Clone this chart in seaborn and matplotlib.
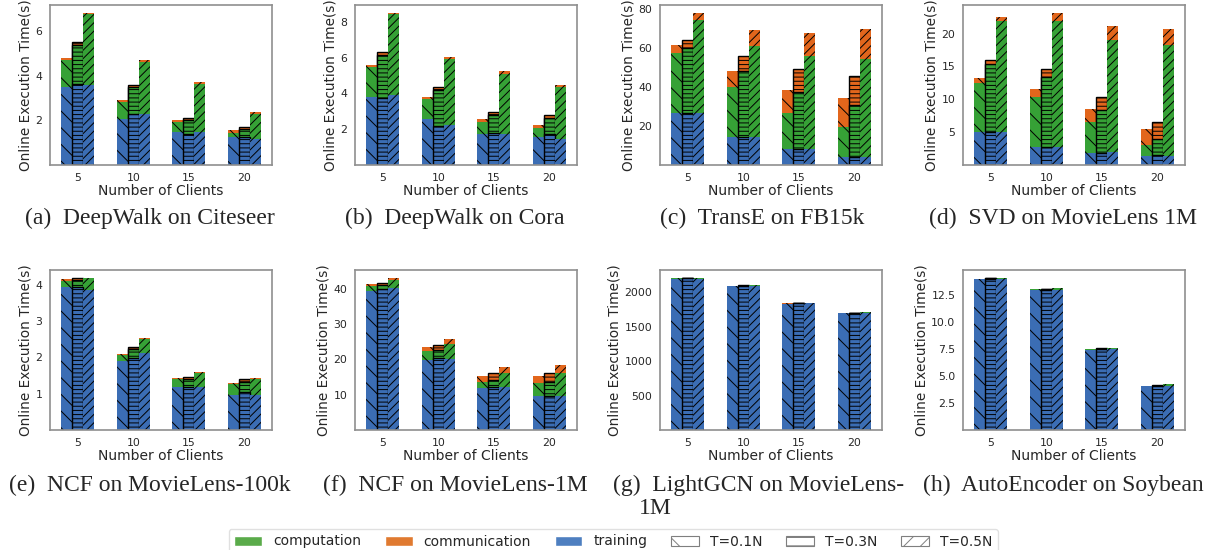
import numpy as np
import pandas as pd
import matplotlib
matplotlib.use('Agg')
import matplotlib.pyplot as plt
import seaborn as sns
from matplotlib.patches import Patch
from matplotlib.ticker import MultipleLocator

clients = ['5', '10', '15', '20']
t_levels = ['T=0.1N', 'T=0.3N', 'T=0.5N']

# each list: rows = T=0.1N, T=0.3N, T=0.5N ; columns = 5, 10, 15, 20 clients
a_train = [[3.51, 2.07, 1.49, 1.25], [3.64, 2.27, 1.37, 1.27], [3.57, 2.27, 1.49, 1.18]]
a_comp = [[1.19, 0.75, 0.44, 0.20], [1.73, 1.24, 0.63, 0.33], [3.18, 2.34, 2.12, 1.09]]
a_comm = [[0.08, 0.08, 0.07, 0.10], [0.14, 0.09, 0.09, 0.10], [0.07, 0.08, 0.09, 0.12]]

b_train = [[3.81, 2.58, 1.76, 1.55], [3.76, 2.20, 1.79, 1.72], [3.93, 2.26, 1.76, 1.46]]
b_comp = [[1.67, 1.12, 0.63, 0.51], [2.37, 1.99, 1.00, 0.92], [4.50, 3.68, 3.31, 2.90]]
b_comm = [[0.09, 0.11, 0.19, 0.16], [0.17, 0.17, 0.18, 0.16], [0.09, 0.12, 0.18, 0.13]]

c_train = [[26.7, 14.4, 8.2, 4.3], [26.7, 14.4, 8.4, 4.3], [26.7, 14.4, 8.2, 4.3]]
c_comp = [[30.7, 25.4, 18.6, 15.4], [33.3, 33.6, 29.0, 26.3], [47.3, 46.5, 47.5, 50.2]]
c_comm = [[4.1, 8.1, 11.8, 14.7], [4.1, 8.0, 11.5, 15.0], [4.0, 8.0, 11.7, 14.9]]

d_train = [[5.1, 2.7, 1.9, 1.4], [5.1, 2.7, 1.9, 1.5], [5.1, 2.7, 2.0, 1.4]]
d_comp = [[7.4, 7.6, 4.7, 1.6], [10.3, 10.7, 6.5, 2.5], [16.8, 19.2, 17.1, 16.8]]
d_comm = [[0.7, 1.3, 1.9, 2.5], [0.6, 1.2, 2.0, 2.5], [0.7, 1.3, 2.0, 2.5]]

e_train = [[3.94, 1.89, 1.19, 0.97], [3.94, 1.99, 1.19, 1.05], [3.85, 2.11, 1.19, 0.96]]
e_comp = [[0.17, 0.17, 0.20, 0.29], [0.19, 0.25, 0.20, 0.27], [0.32, 0.40, 0.37, 0.43]]
e_comm = [[0.03, 0.04, 0.04, 0.04], [0.04, 0.05, 0.06, 0.07], [0.02, 0.03, 0.04, 0.05]]

f_train = [[39.4, 19.9, 12.0, 9.7], [39.8, 20.4, 12.3, 9.7], [40.1, 20.1, 12.3, 9.5]]
f_comp = [[1.2, 2.4, 1.6, 3.6], [1.1, 2.3, 1.9, 3.9], [2.3, 4.1, 3.8, 6.6]]
f_comm = [[0.7, 1.1, 1.8, 2.1], [0.8, 1.4, 1.9, 2.5], [0.7, 1.4, 1.7, 2.4]]

g_train = [[2198, 2090, 1832, 1695], [2203, 2093, 1840, 1698], [2200, 2095, 1840, 1700]]
g_comp = [[5, 6, 4, 3], [5, 6, 5, 4], [12, 12, 10, 10]]
g_comm = [[2, 3, 2, 3], [3, 4, 3, 3], [2, 2, 2, 2]]

h_train = [[14.02, 13.02, 7.48, 4.08], [14.05, 13.05, 7.52, 4.08], [14.0, 13.0, 7.5, 4.05]]
h_comp = [[0.03, 0.04, 0.03, 0.03], [0.04, 0.04, 0.04, 0.05], [0.15, 0.15, 0.15, 0.22]]
h_comm = [[0.02, 0.02, 0.02, 0.02], [0.03, 0.03, 0.03, 0.03], [0.01, 0.01, 0.01, 0.01]]

captions = ['(a)  DeepWalk on Citeseer', '(b)  DeepWalk on Cora', '(c)  TransE on FB15k',
            '(d)  SVD on MovieLens 1M', '(e)  NCF on MovieLens-100k', '(f)  NCF on MovieLens-1M',
            '(g)  LightGCN on MovieLens-', '(h)  AutoEncoder on Soybean']
ytick_steps = [2, 2, 20, 5, 1, 10, 500, 2.5]

panels = [(a_train, a_comp, a_comm), (b_train, b_comp, b_comm), (c_train, c_comp, c_comm),
          (d_train, d_comp, d_comm), (e_train, e_comp, e_comm), (f_train, f_comp, f_comm),
          (g_train, g_comp, g_comm), (h_train, h_comp, h_comm)]

sns.set_style('white')
plt.rcParams['font.family'] = ['DejaVu Sans']
plt.rcParams['hatch.linewidth'] = 0.7

c_blue, c_green, c_orange = '#3b6db4', '#36a136', '#e2661c'
hatches = ['\\\\', '----', '////']

fig = plt.figure(figsize=(12.12, 5.5), dpi=100)
lefts = [50, 355, 660, 963]
bottoms = [1 - 165 / 550, 1 - 430 / 550]

for k, (tr, cp, cm) in enumerate(panels):
    row, col = divmod(k, 4)
    ax = fig.add_axes([lefts[col] / 1212, bottoms[row], 222 / 1212, 160 / 550])
    rows = []
    for i, t in enumerate(t_levels):
        for j, n in enumerate(clients):
            rows.append({'clients': n, 'T': t, 'training': tr[i][j],
                         'computation': cp[i][j], 'communication': cm[i][j]})
    df = pd.DataFrame(rows)
    df['lvl1'] = df['training']
    df['lvl2'] = df['training'] + df['computation']
    df['lvl3'] = df['lvl2'] + df['communication']
    for col_name, color in [('lvl3', c_orange), ('lvl2', c_green), ('lvl1', c_blue)]:
        sns.barplot(data=df, x='clients', y=col_name, hue='T', order=clients, hue_order=t_levels,
                    palette=[color] * 3, width=0.6, saturation=1, errorbar=None,
                    legend=False, ax=ax)
    for ci, cont in enumerate(ax.containers):
        ti = ci % 3
        for p in cont:
            p.set_hatch(hatches[ti])
            p.set_edgecolor('black')
            p.set_linewidth(1.0 if ti == 1 else 0)
    ax.autoscale(axis='y')
    top = ax.get_ylim()[1]
    ax.yaxis.set_major_locator(MultipleLocator(ytick_steps[k]))
    ax.set_yticks([v for v in ax.get_yticks() if 0 < v < top])
    ax.set_ylim(0, top)
    ax.set_xlabel('Number of Clients', fontsize=10, labelpad=1)
    ax.set_ylabel('Online Execution Time(s)', fontsize=9.8, labelpad=2)
    ax.tick_params(labelsize=7.8, pad=2)
    for s in ax.spines.values():
        s.set_color('#8f8f8f')
        s.set_linewidth(1.2)

cap_x = [150, 455, 762, 1063]
cap_y = [218, 485]
for k, cap in enumerate(captions):
    row, col = divmod(k, 4)
    if k == 6:
        fig.text(613 / 1212, 1 - cap_y[row] / 550, cap, ha='left', va='center',
                 family='Liberation Serif', fontsize=17)
        fig.text(639 / 1212, 1 - 509 / 550, '1M', ha='left', va='center',
                 family='Liberation Serif', fontsize=17)
    else:
        fig.text(cap_x[col] / 1212, 1 - cap_y[row] / 550, cap, ha='center', va='center',
                 family='Liberation Serif', fontsize=17)

handles = [Patch(facecolor='#5aab4a', label='computation'),
           Patch(facecolor='#e07a30', label='communication'),
           Patch(facecolor='#4e7fc0', label='training')]
for t, h in zip(t_levels, ['\\', '--', '//']):
    handles.append(Patch(facecolor='white', edgecolor='#7f7f7f', hatch=h, linewidth=0.8, label=t))
fig.legend(handles=handles, loc='lower center', bbox_to_anchor=(0.506, -0.02), ncol=6,
           fontsize=10, frameon=True, edgecolor='#d9d9d9', columnspacing=1.7)

fig.savefig('out.png', dpi=100)
